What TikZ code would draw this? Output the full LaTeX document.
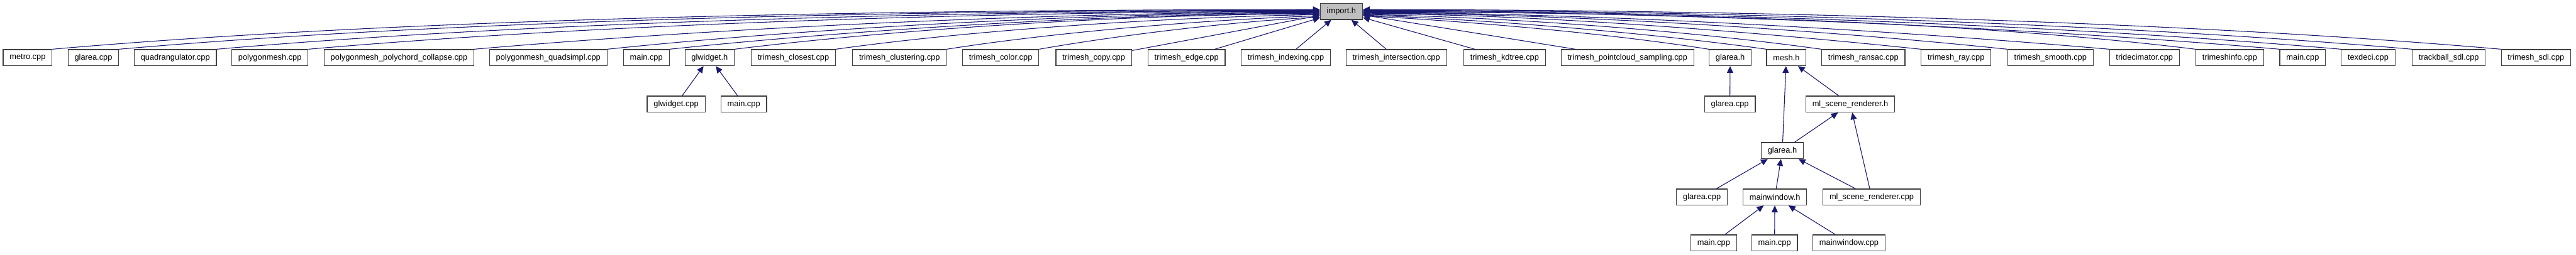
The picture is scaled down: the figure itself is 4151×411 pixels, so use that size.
\documentclass[tikz,border=0pt]{standalone}
\usepackage{fontspec}
\setmainfont{Liberation Sans}
\usetikzlibrary{arrows.meta}
\definecolor{edgeblue}{HTML}{191970}

\begin{document}
\begin{tikzpicture}[x=1pt,y=1pt,
  file/.style={draw=black!75, line width=1.2pt, fill=white, minimum height=26pt,
    inner xsep=10.5pt, inner ysep=0pt, font=\fontsize{13}{15}\selectfont},
  dep/.style={edgeblue, line width=1.1pt, -{Triangle[length=11pt,width=10pt]}}]
\useasboundingbox (0,0) rectangle (4151,411);
% the header
\node[file, fill=black!25] (imp) at (2161.5,392.5) {import.h};
% first row
\foreach \n/\x/\t in {metro/44.5/metro.cpp, glareaA/150.5/glarea.cpp,
    quadr/282.5/quadrangulator.cpp, polymesh/435/polygonmesh.cpp,
    polychord/643/polygonmesh\_polychord\_collapse.cpp,
    quadsimpl/883.5/polygonmesh\_quadsimpl.cpp, mainA/1041.5/main.cpp,
    glwh/1143.5/glwidget.h, tclosest/1278.5/trimesh\_closest.cpp,
    tcluster/1449.5/trimesh\_clustering.cpp, tcolor/1612.5/trimesh\_color.cpp,
    tcopy/1762.5/trimesh\_copy.cpp, tedge/1912/trimesh\_edge.cpp,
    tindex/2072/trimesh\_indexing.cpp, tinter/2250/trimesh\_intersection.cpp,
    tkdtree/2424.5/trimesh\_kdtree.cpp,
    tpcs/2622.5/trimesh\_pointcloud\_sampling.cpp, glareahA/2788/glarea.h,
    meshh/2878.5/mesh.h, transac/3002.5/trimesh\_ransac.cpp,
    tray/3152/trimesh\_ray.cpp, tsmooth/3304/trimesh\_smooth.cpp,
    tridec/3455.5/tridecimator.cpp, tinfo/3593/trimeshinfo.cpp,
    mainB/3710.5/main.cpp, texdeci/3816/texdeci.cpp,
    trackball/3946/trackball\_sdl.cpp, tsdl/4086.5/trimesh\_sdl.cpp}
  \node[file] (\n) at (\x,318) {\t};
% lower rows
\node[file] (glwcpp) at (1089.5,243) {glwidget.cpp};
\node[file] (mainC) at (1198.5,243) {main.cpp};
\node[file] (glareaB) at (2787.5,243) {glarea.cpp};
\node[file] (mlh) at (2981.5,243) {ml\_scene\_renderer.h};
\node[file] (glareahB) at (2872,168) {glarea.h};
\node[file] (glareaC) at (2742.5,93) {glarea.cpp};
\node[file] (mainwh) at (2860,93) {mainwindow.h};
\node[file] (mlcpp) at (3016,93) {ml\_scene\_renderer.cpp};
\node[file] (mainD) at (2761.5,19) {main.cpp};
\node[file] (mainE) at (2859.5,19) {main.cpp};
\node[file] (mainwcpp) at (2979.5,19) {mainwindow.cpp};
% edges into import.h
\foreach \n/\s/\o/\i/\l in {metro/3/5/180/612, glareaA/2/5/180/580,
    quadr/1/5/180/533, polymesh/0/5/180/489, polychord/-1/5/180/409,
    quadsimpl/-2/6/180/344, mainA/-3/6/180/314, glwh/-4/7/180/283,
    tclosest/-5/8/181/234, tcluster/-7/9/182/180, tcolor/-9/10/183/136}
  \draw[dep] (\n.north east) .. controls +(\o:\l) and +(\i:\l) .. ([yshift=\s]imp.west);
\foreach \n in {tcopy,tedge,tindex,tinter,tkdtree,tpcs}
  \draw[dep] (\n) -- (imp);
\foreach \n/\s/\o/\i/\l in {glareahA/-7/171/357/167, meshh/-6/172/358/195,
    transac/-5/172/359/221, tray/-4/174/0/270, tsmooth/-3/174/0/311,
    tridec/-2/175/0/361, tinfo/-1/173/0/403, mainB/0/175/0/443,
    texdeci/1/175/0/473, trackball/2/175/0/507, tsdl/3/175/0/550}
  \draw[dep] (\n.north west) .. controls +(\o:\l) and +(\i:\l) .. ([yshift=\s]imp.east);
% the rest
\foreach \a/\b in {glwcpp/glwh, mainC/glwh, glareaB/glareahA, glareahB/meshh,
    mlh/meshh, glareahB/mlh, mlcpp/mlh, glareaC/glareahB, mainwh/glareahB,
    mlcpp/glareahB, mainD/mainwh, mainE/mainwh, mainwcpp/mainwh}
  \draw[dep] (\a) -- (\b);
\end{tikzpicture}
\end{document}
